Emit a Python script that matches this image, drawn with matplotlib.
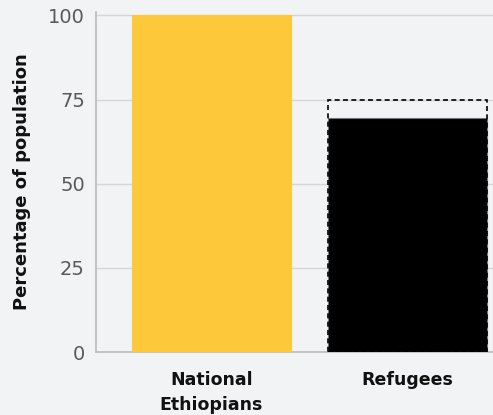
import matplotlib.pyplot as plt
from matplotlib.patches import Rectangle

groups = ['National\nEthiopians', 'Refugees']
shares = [100, 69.6]
target = [None, 75]
colors = ['#fdc93a', '#000000']

bg = '#f2f3f5'
fig = plt.figure(figsize=(4.93, 4.15), dpi=100, facecolor=bg)
ax = fig.add_axes([96 / 493, 63 / 415, 397 / 493, 340 / 415], facecolor=bg)

x = list(range(len(groups)))
w = 0.81
ax.bar(x, shares, width=w, color=colors, edgecolor=['#fdc93a', '#777777'], linewidth=0.8, zorder=3)
for xi, t in zip(x, target):
    if t is not None:
        ax.add_patch(Rectangle((xi - w / 2, 0), w, t, fill=False, edgecolor='black',
                               linestyle=(0, (3, 2)), linewidth=1.2, zorder=4))

ax.set_xlim(-0.589, 1.436)
ax.set_ylim(0, 101)
ax.set_yticks([0, 25, 50, 75, 100])
ax.set_xticks(x)
ax.set_xticklabels(groups, fontsize=12.5, fontweight='bold', color='#111111', linespacing=1.45)
ax.tick_params(axis='y', length=0, labelsize=14, labelcolor='#5a5a5a', pad=8)
ax.tick_params(axis='x', length=0, pad=14)
ax.grid(axis='y', color='#d6d6d6', linewidth=1, zorder=0)
ax.set_ylabel('Percentage of population', fontsize=13, fontweight='bold', color='#111111', labelpad=12)

for s in ['top', 'right']:
    ax.spines[s].set_visible(False)
ax.spines['left'].set_color('#bbbbbb')
ax.spines['bottom'].set_color('#bbbbbb')
ax.spines['left'].set_linewidth(1.2)
ax.spines['bottom'].set_linewidth(1.2)

fig.savefig('out.png', dpi=100, facecolor=bg)
